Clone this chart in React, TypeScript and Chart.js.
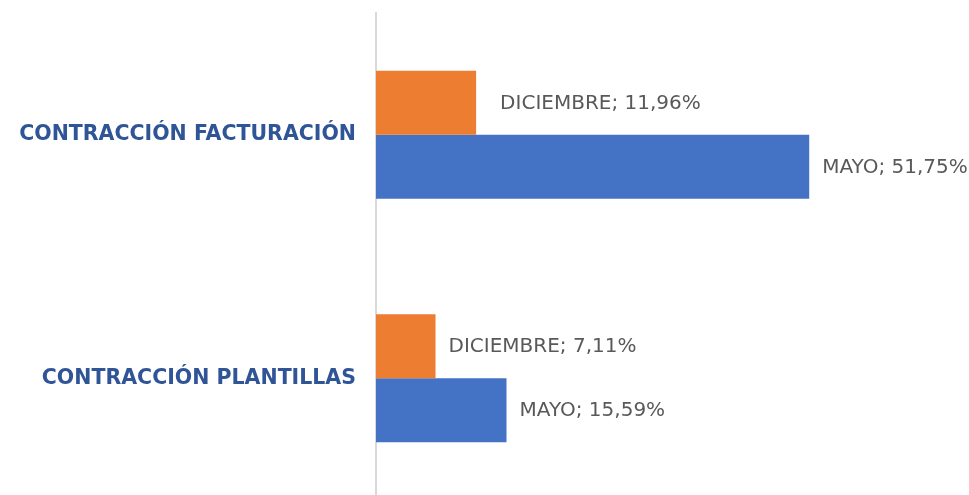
import React, { useEffect, useRef } from "react";
import { Chart, registerables } from "chart.js";

Chart.register(...registerables);

const categories = ["CONTRACCIÓN FACTURACIÓN", "CONTRACCIÓN PLANTILLAS"];
const seriesNames = ["DICIEMBRE", "MAYO"];
const diciembre = [11.96, 7.11];
const mayo = [51.75, 15.59];

const COLORS = ["#ED7D31", "#4472C4"];
const LABEL_FONT = "'DejaVu Sans', sans-serif";

const fmt = (v: number) => v.toFixed(2).replace(".", ",") + "%";

const valueLabelPlugin = {
  id: "valueLabels",
  afterDatasetsDraw(chart: any) {
    const ctx = chart.ctx;
    const offsets = [
      [24, 13],
      [13, 13],
    ];
    ctx.save();
    ctx.font = `400 20px ${LABEL_FONT}`;
    ctx.fillStyle = "#595959";
    ctx.textAlign = "left";
    ctx.textBaseline = "middle";
    chart.data.datasets.forEach((ds: any, di: number) => {
      const meta = chart.getDatasetMeta(di);
      meta.data.forEach((bar: any, i: number) => {
        const v = ds.data[i];
        const text = `${seriesNames[di]}; ${fmt(v)}`;
        ctx.fillText(text, bar.x + offsets[i][di], bar.y + 1);
      });
    });
    ctx.restore();
  },
};

export default function App() {
  const ref = useRef<HTMLCanvasElement | null>(null);

  useEffect(() => {
    if (!ref.current) return;
    const chart = new Chart(ref.current, {
      type: "bar",
      data: {
        labels: categories,
        datasets: [
          {
            label: seriesNames[0],
            data: diciembre,
            backgroundColor: COLORS[0],
            barPercentage: 1,
            categoryPercentage: 0.525,
          },
          {
            label: seriesNames[1],
            data: mayo,
            backgroundColor: COLORS[1],
            barPercentage: 1,
            categoryPercentage: 0.525,
          },
        ],
      },
      options: {
        indexAxis: "y",
        responsive: false,
        animation: false,
        events: [],
        layout: { padding: { top: 13, right: 7, left: 0, bottom: 0 } },
        plugins: {
          legend: { display: false },
          tooltip: { enabled: false },
        },
        scales: {
          x: {
            min: 0,
            max: 70,
            display: false,
            grid: { display: false },
          },
          y: {
            afterFit(scale: any) {
              scale.width = 376;
              scale.paddingTop = 0;
              scale.paddingBottom = 0;
            },
            grid: { display: false, drawTicks: false },
            border: { display: true, color: "#D9D9D9", width: 2 },
            ticks: {
              padding: 20,
              color: "#2F5597",
              font: { family: LABEL_FONT, size: 20.5, weight: "bold" },
            },
          },
        },
      },
      plugins: [valueLabelPlugin],
    });
    return () => chart.destroy();
  }, []);

  return (
    <div
      style={{
        position: "absolute",
        left: 0,
        top: 0,
        width: 969,
        height: 495,
        overflow: "hidden",
        background: "#fff",
      }}
    >
      <canvas ref={ref} width={969} height={500} style={{ width: 969, height: 500, display: "block" }} />
    </div>
  );
}
